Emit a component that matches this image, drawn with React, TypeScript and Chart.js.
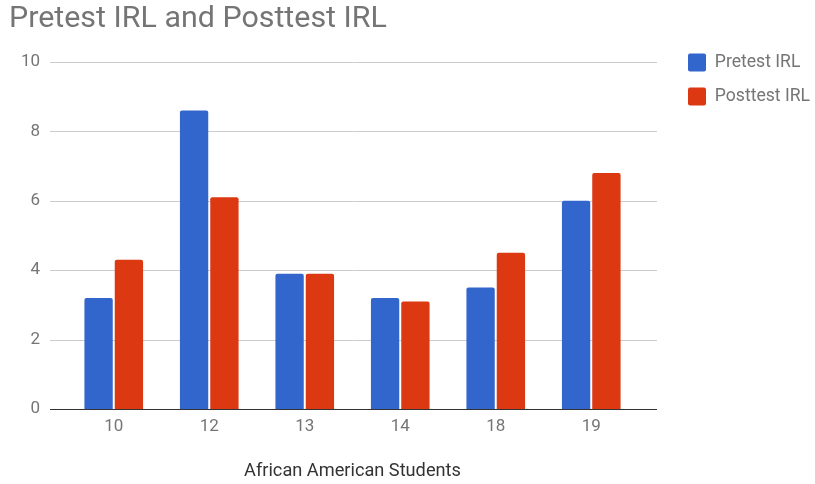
import React, { useEffect, useRef } from "react";
import { Chart, registerables } from "chart.js";

Chart.register(...registerables);

const categories = ["10", "12", "13", "14", "18", "19"];
const pretestIRL = [3.2, 8.6, 3.9, 3.2, 3.5, 6.0];
const posttestIRL = [4.3, 6.1, 3.9, 3.1, 4.5, 6.8];
const seriesNames = ["Pretest IRL", "Posttest IRL"];
const yTicks = { min: 0, max: 10, step: 2 };
const chartTitle = "Pretest IRL and Posttest IRL";
const xAxisTitle = "African American Students";

const gridPlugin = {
  id: "extendedGrid",
  beforeDatasetsDraw(chart: any) {
    const { ctx, chartArea, scales } = chart;
    const y = scales.y;
    ctx.save();
    ctx.lineWidth = 1;
    ctx.strokeStyle = "#cccccc";
    y.ticks.forEach((t: any) => {
      if (t.value === 0) return;
      const py = Math.round(y.getPixelForValue(t.value)) + 0.5;
      ctx.beginPath();
      ctx.moveTo(chartArea.left - 16, py);
      ctx.lineTo(chartArea.right + 18, py);
      ctx.stroke();
    });
    ctx.restore();
  },
  afterDatasetsDraw(chart: any) {
    const { ctx, chartArea, scales } = chart;
    const py = Math.round(scales.y.getPixelForValue(0)) + 0.5;
    ctx.save();
    ctx.lineWidth = 1.2;
    ctx.strokeStyle = "#333333";
    ctx.beginPath();
    ctx.moveTo(chartArea.left - 16, py);
    ctx.lineTo(chartArea.right + 18, py);
    ctx.stroke();
    ctx.restore();
  },
};

const legendPlacePlugin = {
  id: "legendPlace",
  afterLayout(chart: any) {
    const l = chart.legend;
    if (!l) return;
    const area = chart.chartArea;
    const w = l.width;
    const h = l.height;
    l.left = area.right + 33;
    l.right = l.left + w;
    l.top = area.top - 24.5;
    l.bottom = l.top + h;
  },
};

export default function App() {
  const ref = useRef<HTMLCanvasElement | null>(null);
  useEffect(() => {
    if (!ref.current) return;
    Chart.defaults.font.family = "Roboto, sans-serif";
    const chart = new Chart(ref.current, {
      type: "bar",
      data: {
        labels: categories,
        datasets: [
          {
            label: seriesNames[0],
            data: pretestIRL,
            backgroundColor: "#3366cc",
            borderWidth: 0,
            borderRadius: 2,
            categoryPercentage: 0.635,
            barPercentage: 0.934,
          },
          {
            label: seriesNames[1],
            data: posttestIRL,
            backgroundColor: "#dc3912",
            borderWidth: 0,
            borderRadius: 2,
            categoryPercentage: 0.635,
            barPercentage: 0.934,
          },
        ],
      },
      options: {
        responsive: false,
        animation: false,
        devicePixelRatio: 1,
        layout: { padding: { left: 9, right: 176, top: 0, bottom: 0 } },
        plugins: {
          title: {
            display: true,
            text: chartTitle,
            align: "start",
            color: "#757575",
            font: { size: 30.4, weight: "normal" },
            padding: { top: 1, bottom: 24.5 },
          },
          legend: {
            display: true,
            position: "chartArea",
            align: "start",
            labels: {
              boxWidth: 18,
              boxHeight: 18,
              padding: 16,
              color: "#757575",
              font: { size: 17.6 },
              useBorderRadius: true,
              borderRadius: 2,
            },
          },
          tooltip: { enabled: false },
        },
        scales: {
          x: {
            grid: { display: false, drawTicks: false },
            border: { display: false },
            ticks: { color: "#757575", font: { size: 17 }, padding: 7.5 },
            title: {
              display: true,
              text: xAxisTitle,
              color: "#333333",
              font: { size: 18.2 },
              padding: { top: 0, bottom: 2 },
            },
            afterFit(scale: any) {
              scale.height = 75;
            },
          },
          y: {
            min: yTicks.min,
            max: yTicks.max,
            grid: { display: false, drawTicks: false },
            border: { display: false },
            ticks: {
              stepSize: yTicks.step,
              color: "#757575",
              font: { size: 17 },
              padding: 26,
            },
            afterFit(scale: any) {
              scale.width = 57;
            },
          },
        },
      },
      plugins: [gridPlugin, legendPlacePlugin],
    } as any);
    return () => chart.destroy();
  }, []);
  return (
    <div style={{ position: "absolute", left: 0, top: 0, width: 815, height: 484, background: "#fff" }}>
      <canvas ref={ref} width={815} height={484} style={{ display: "block" }} />
    </div>
  );
}
